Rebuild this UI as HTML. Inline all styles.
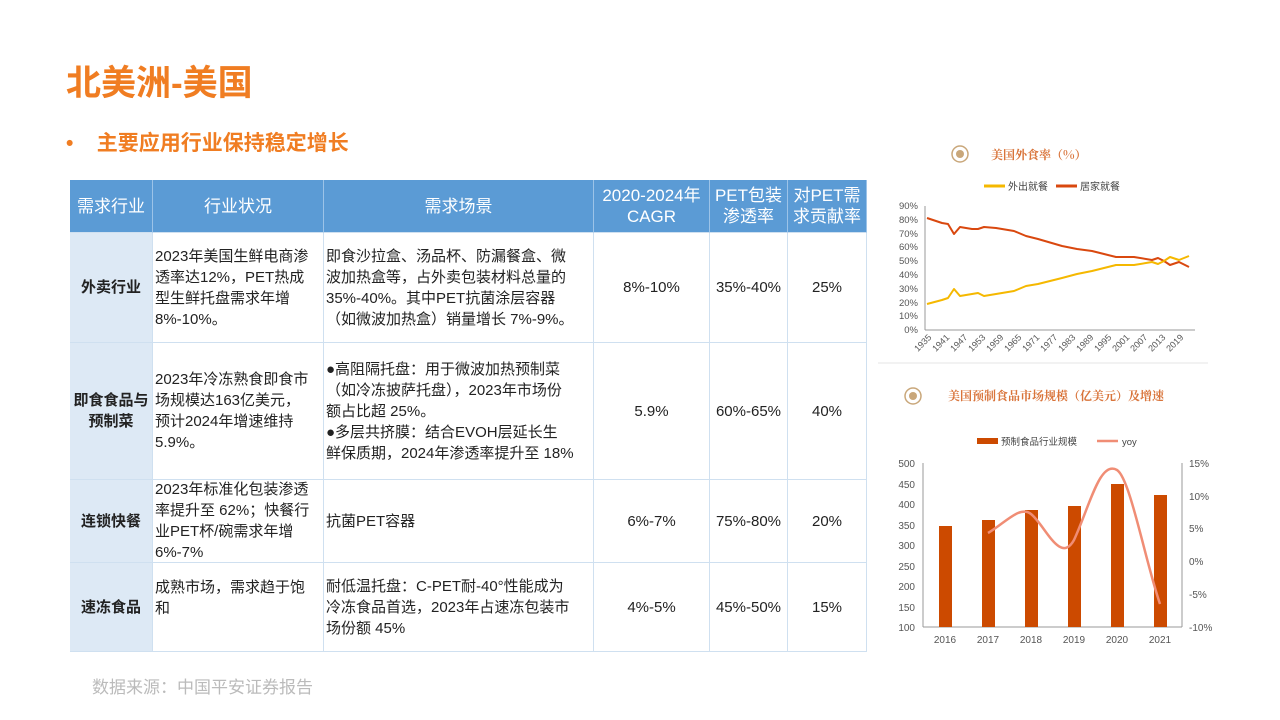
<!DOCTYPE html>
<html><head><meta charset="utf-8"><style>
*{margin:0;padding:0;box-sizing:border-box}
body{width:1280px;height:720px;background:#fff;position:relative;overflow:hidden;font-family:"Liberation Sans","Noto Sans CJK SC",sans-serif;color:#222}
.a{position:absolute}
.c{position:absolute;display:flex;align-items:center;font-size:15px;line-height:21px;border-right:1px solid #cfe0f0;border-bottom:1px solid #cfe0f0;white-space:nowrap}
.h{background:#5b9bd5;color:#fff;justify-content:center;text-align:center;font-size:17px;border-right:1px solid #9cc3e8}
.f{background:#dde9f5;justify-content:center;text-align:center;font-weight:bold}
.m{justify-content:center;text-align:center}
.l{padding-left:2px}
</style></head><body>
<div class="a" style="left:66px;top:55px;font-size:35px;font-weight:bold;color:#f07d22">北美洲-美国</div>
<div class="a" style="left:66px;top:127px;font-size:21px;font-weight:bold;color:#f07d22">•&nbsp;&nbsp;&nbsp;&nbsp;主要应用行业保持稳定增长</div>

<div class="a" style="left:70px;top:180px;width:797px;height:472px;border:1px solid #9cc3e8"></div>
<div class="c h" style="left:70px;top:180px;width:83px;height:53px">需求行业</div>
<div class="c h" style="left:153px;top:180px;width:171px;height:53px">行业状况</div>
<div class="c h" style="left:324px;top:180px;width:270px;height:53px">需求场景</div>
<div class="c h" style="left:594px;top:180px;width:116px;height:53px">2020-2024年<br>CAGR</div>
<div class="c h" style="left:710px;top:180px;width:78px;height:53px">PET包装<br>渗透率</div>
<div class="c h" style="left:788px;top:180px;width:79px;height:53px">对PET需<br>求贡献率</div>

<div class="c f" style="left:70px;top:233px;width:83px;height:110px">外卖行业</div>
<div class="c l" style="left:153px;top:233px;width:171px;height:110px">2023年美国生鲜电商渗<br>透率达12%，PET热成<br>型生鲜托盘需求年增<br>8%-10%。</div>
<div class="c l" style="left:324px;top:233px;width:270px;height:110px">即食沙拉盒、汤品杯、防漏餐盒、微<br>波加热盒等，占外卖包装材料总量的<br>35%-40%。其中PET抗菌涂层容器<br>（如微波加热盒）销量增长 7%-9%。</div>
<div class="c m" style="left:594px;top:233px;width:116px;height:110px">8%-10%</div>
<div class="c m" style="left:710px;top:233px;width:78px;height:110px">35%-40%</div>
<div class="c m" style="left:788px;top:233px;width:79px;height:110px">25%</div>

<div class="c f" style="left:70px;top:343px;width:83px;height:137px">即食食品与<br>预制菜</div>
<div class="c l" style="left:153px;top:343px;width:171px;height:137px">2023年冷冻熟食即食市<br>场规模达163亿美元，<br>预计2024年增速维持<br>5.9%。</div>
<div class="c l" style="left:324px;top:343px;width:270px;height:137px">●高阻隔托盘：用于微波加热预制菜<br>（如冷冻披萨托盘），2023年市场份<br>额占比超 25%。<br>●多层共挤膜：结合EVOH层延长生<br>鲜保质期，2024年渗透率提升至 18%</div>
<div class="c m" style="left:594px;top:343px;width:116px;height:137px">5.9%</div>
<div class="c m" style="left:710px;top:343px;width:78px;height:137px">60%-65%</div>
<div class="c m" style="left:788px;top:343px;width:79px;height:137px">40%</div>

<div class="c f" style="left:70px;top:480px;width:83px;height:83px">连锁快餐</div>
<div class="c l" style="left:153px;top:480px;width:171px;height:83px">2023年标准化包装渗透<br>率提升至 62%；快餐行<br>业PET杯/碗需求年增<br>6%-7%</div>
<div class="c l" style="left:324px;top:480px;width:270px;height:83px">抗菌PET容器</div>
<div class="c m" style="left:594px;top:480px;width:116px;height:83px">6%-7%</div>
<div class="c m" style="left:710px;top:480px;width:78px;height:83px">75%-80%</div>
<div class="c m" style="left:788px;top:480px;width:79px;height:83px">20%</div>

<div class="c f" style="left:70px;top:563px;width:83px;height:89px">速冻食品</div>
<div class="c l" style="left:153px;top:563px;width:171px;height:89px;align-items:flex-start;padding-top:14px">成熟市场，需求趋于饱<br>和</div>
<div class="c l" style="left:324px;top:563px;width:270px;height:89px">耐低温托盘：C-PET耐-40°性能成为<br>冷冻食品首选，2023年占速冻包装市<br>场份额 45%</div>
<div class="c m" style="left:594px;top:563px;width:116px;height:89px">4%-5%</div>
<div class="c m" style="left:710px;top:563px;width:78px;height:89px">45%-50%</div>
<div class="c m" style="left:788px;top:563px;width:79px;height:89px">15%</div>

<div class="a" style="left:92px;top:673px;font-size:17px;color:#bbb">数据来源：中国平安证券报告</div>

<svg class="a" style="left:0;top:0" width="1280" height="720" font-family="Liberation Sans, Noto Sans CJK SC, sans-serif">
<rect x="878" y="362" width="330" height="2" fill="#f2f2f2"/>
<circle cx="960" cy="154" r="8" fill="none" stroke="#c9a77a" stroke-width="1.5"/><circle cx="960" cy="154" r="4" fill="#c9a77a"/>
<text x="991" y="159" font-size="12" fill="#d9743a" font-family="Noto Serif CJK SC, serif" font-weight="bold">美国外食率（%）</text>
<line x1="984" y1="186" x2="1005" y2="186" stroke="#f5b800" stroke-width="3"/><text x="1008" y="190" font-size="10" fill="#444">外出就餐</text>
<line x1="1056" y1="186" x2="1077" y2="186" stroke="#d9480f" stroke-width="3"/><text x="1080" y="190" font-size="10" fill="#444">居家就餐</text>
<g font-size="9.5" fill="#555" text-anchor="end">
<text x="918" y="209">90%</text><text x="918" y="223">80%</text><text x="918" y="237">70%</text><text x="918" y="250">60%</text><text x="918" y="264">50%</text><text x="918" y="278">40%</text><text x="918" y="292">30%</text><text x="918" y="306">20%</text><text x="918" y="319">10%</text><text x="918" y="333">0%</text>
</g>
<line x1="925" y1="206" x2="925" y2="330" stroke="#999"/><line x1="925" y1="330" x2="1195" y2="330" stroke="#999"/>
<g font-size="9" fill="#555" text-anchor="end">
<text transform="translate(932,338) rotate(-45)">1935</text><text transform="translate(950,338) rotate(-45)">1941</text><text transform="translate(968,338) rotate(-45)">1947</text><text transform="translate(986,338) rotate(-45)">1953</text><text transform="translate(1004,338) rotate(-45)">1959</text><text transform="translate(1022,338) rotate(-45)">1965</text><text transform="translate(1040,338) rotate(-45)">1971</text><text transform="translate(1058,338) rotate(-45)">1977</text><text transform="translate(1076,338) rotate(-45)">1983</text><text transform="translate(1094,338) rotate(-45)">1989</text><text transform="translate(1112,338) rotate(-45)">1995</text><text transform="translate(1130,338) rotate(-45)">2001</text><text transform="translate(1148,338) rotate(-45)">2007</text><text transform="translate(1166,338) rotate(-45)">2013</text><text transform="translate(1184,338) rotate(-45)">2019</text>
</g>
<polyline fill="none" stroke="#d9480f" stroke-width="2" stroke-linejoin="round" points="927,218 942,223 948,224 954,234 960,227 972,229 978,229 984,227 996,228 1014,231 1026,236 1038,239 1062,246 1077,249 1092,251 1104,254 1116,257 1134,257 1152,260 1158,258 1164,261 1170,265 1179,262 1189,267"/>
<polyline fill="none" stroke="#f5b800" stroke-width="2" stroke-linejoin="round" points="927,304 942,300 948,298 954,289 960,296 972,294 978,293 984,296 996,294 1014,291 1026,286 1038,284 1062,278 1077,274 1092,271 1104,268 1116,265 1134,265 1152,262 1158,264 1164,261 1170,257 1179,260 1189,256"/>

<circle cx="913" cy="396" r="8" fill="none" stroke="#c9a77a" stroke-width="1.5"/><circle cx="913" cy="396" r="4" fill="#c9a77a"/>
<text x="948" y="400" font-size="12" fill="#d9743a" font-family="Noto Serif CJK SC, serif" font-weight="bold">美国预制食品市场规模（亿美元）及增速</text>
<rect x="977" y="438" width="21" height="6" fill="#cc4a00"/><text x="1001" y="445" font-size="9.5" fill="#444">预制食品行业规模</text>
<line x1="1097" y1="441" x2="1118" y2="441" stroke="#f08d75" stroke-width="2.5"/><text x="1122" y="445" font-size="9.5" fill="#444">yoy</text>
<g font-size="10" fill="#555" text-anchor="end">
<text x="915" y="467">500</text><text x="915" y="488">450</text><text x="915" y="508">400</text><text x="915" y="529">350</text><text x="915" y="549">300</text><text x="915" y="570">250</text><text x="915" y="590">200</text><text x="915" y="611">150</text><text x="915" y="631">100</text>
</g>
<g font-size="10" fill="#555">
<text x="1189" y="467">15%</text><text x="1189" y="500">10%</text><text x="1189" y="532">5%</text><text x="1189" y="565">0%</text><text x="1189" y="598">-5%</text><text x="1189" y="631">-10%</text>
</g>
<line x1="923" y1="463" x2="923" y2="627" stroke="#999"/><line x1="923" y1="627" x2="1182" y2="627" stroke="#999"/><line x1="1182" y1="463" x2="1182" y2="627" stroke="#999"/>
<g fill="#cc4a00">
<rect x="939" y="526" width="13" height="101"/><rect x="982" y="520" width="13" height="107"/><rect x="1025" y="510" width="13" height="117"/><rect x="1068" y="506" width="13" height="121"/><rect x="1111" y="484" width="13" height="143"/><rect x="1154" y="495" width="13" height="132"/>
</g>
<path d="M988,533 C1005,523 1020,505 1031,514 C1045,525 1060,565 1074,540 C1090,505 1100,460 1117,470 C1130,478 1145,560 1160,604" fill="none" stroke="#f08d75" stroke-width="2.5"/>
<g font-size="10" fill="#555" text-anchor="middle">
<text x="945" y="643">2016</text><text x="988" y="643">2017</text><text x="1031" y="643">2018</text><text x="1074" y="643">2019</text><text x="1117" y="643">2020</text><text x="1160" y="643">2021</text>
</g>
</svg>
</body></html>
